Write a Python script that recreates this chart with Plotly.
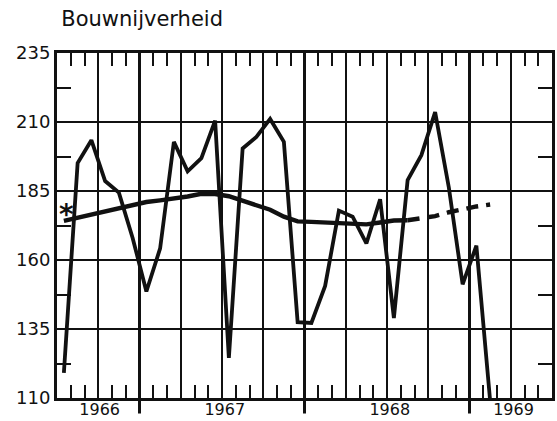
import plotly.graph_objects as go

# ---- data (monthly, x = months since 1 Jul 1966, points at mid-month) ----
months = [i + 0.5 for i in range(32)]
activity = [119.1, 195.1, 203.4, 188.6, 184.4, 168.0, 148.6, 164.2, 202.8, 192.1,
            196.9, 210.5, 124.5, 200.4, 204.6, 211.1, 202.8, 137.5, 137.2, 150.6,
            177.9, 175.7, 166.0, 182.0, 139.0, 189.0, 198.0, 213.6, 186.2, 151.2,
            165.2, 109.0]
trend = [174.2, 175.4, 176.5, 177.6, 178.7, 179.8, 181.0, 181.6, 182.1, 183.0,
         184.0, 183.9, 183.1, 181.5, 179.8, 178.2, 175.7, 174.0, 173.8, 173.5,
         173.3, 173.0, 172.9, 173.6, 174.3, 174.4, 175.1, 175.9, 177.3, 178.5,
         179.4, 180.1]
solid_until = 25          # index where trend line turns dashed
year_bounds = [6, 18, 30]  # 1 Jan 1967, 1968, 1969
year_labels = ["1966", "1967", "1968", "1969"]
year_label_pos = [3.1, 12.2, 24.2, 33.2]
y_ticks = [110, 135, 160, 185, 210, 235]
star_pos = (0.7, 179.5)

INK = "#111111"
fig = go.Figure()

fig.add_trace(go.Scatter(x=months, y=activity, mode="lines",
                         line=dict(color=INK, width=3.8), showlegend=False))
fig.add_trace(go.Scatter(x=months[:solid_until + 1], y=trend[:solid_until + 1],
                         mode="lines", line=dict(color=INK, width=4.4), showlegend=False))
fig.add_trace(go.Scatter(x=months[solid_until:], y=trend[solid_until:],
                         mode="lines", line=dict(color=INK, width=4.4, dash="12px,8px"),
                         showlegend=False))
# invisible traces to activate helper axes (year labels / monthly ticks)
fig.add_trace(go.Scatter(x=[0], y=[110], xaxis="x2", mode="markers",
                         marker=dict(opacity=0), showlegend=False, hoverinfo="skip"))
fig.add_trace(go.Scatter(x=[0], y=[110], xaxis="x3", mode="markers",
                         marker=dict(opacity=0), showlegend=False, hoverinfo="skip"))

for xb in year_bounds:
    fig.add_shape(type="line", xref="x", yref="y domain", x0=xb, x1=xb,
                  y0=-0.045, y1=1, line=dict(color=INK, width=3), layer="above")

fig.add_annotation(x=star_pos[0], y=star_pos[1], text="<b>*</b>", showarrow=False,
                   font=dict(family="DejaVu Sans", size=28, color=INK), yshift=-8)

fig.update_layout(
    width=557, height=421,
    margin=dict(l=57, r=2, t=53, b=19),
    paper_bgcolor="white", plot_bgcolor="white",
    title=dict(text="Bouwnijverheid", x=0.11, xanchor="left", y=0.955, yanchor="middle",
               font=dict(family="DejaVu Sans", size=21, color=INK)),
    xaxis=dict(range=[0, 36], tickmode="linear", tick0=0, dtick=3,
               showgrid=True, gridcolor=INK, gridwidth=1.6,
               showticklabels=False, ticks="", zeroline=False,
               showline=True, linecolor=INK, linewidth=3, mirror=True),
    xaxis2=dict(range=[0, 36], overlaying="x", anchor="y", side="bottom",
                tickmode="array", tickvals=year_label_pos, ticktext=year_labels,
                showgrid=False, zeroline=False, showline=False, ticks="",
                tickfont=dict(family="DejaVu Sans", size=16, color=INK)),
    xaxis3=dict(range=[0, 36], overlaying="x", anchor="y", side="bottom",
                tickmode="linear", tick0=0, dtick=1, ticks="inside", ticklen=13,
                tickwidth=2.2, tickcolor=INK, showticklabels=False,
                showgrid=False, zeroline=False, showline=True, linecolor=INK,
                linewidth=3, mirror="ticks"),
    yaxis=dict(range=[110, 235], tickmode="array", tickvals=y_ticks,
               showgrid=True, gridcolor=INK, gridwidth=1.6, zeroline=False,
               ticks="inside", ticklen=14, tickwidth=1.6, tickcolor=INK,
               showline=True, linecolor=INK, linewidth=3, mirror="ticks",
               tickfont=dict(family="DejaVu Sans", size=18, color=INK),
               minor=dict(tickmode="linear", tick0=110, dtick=12.5, ticks="inside",
                          ticklen=14, tickwidth=2.2, tickcolor=INK, showgrid=False)),
)

fig.write_html("out.html", config={"displayModeBar": False},
               post_script="document.body.style.margin='0';document.body.style.overflow='hidden';")
